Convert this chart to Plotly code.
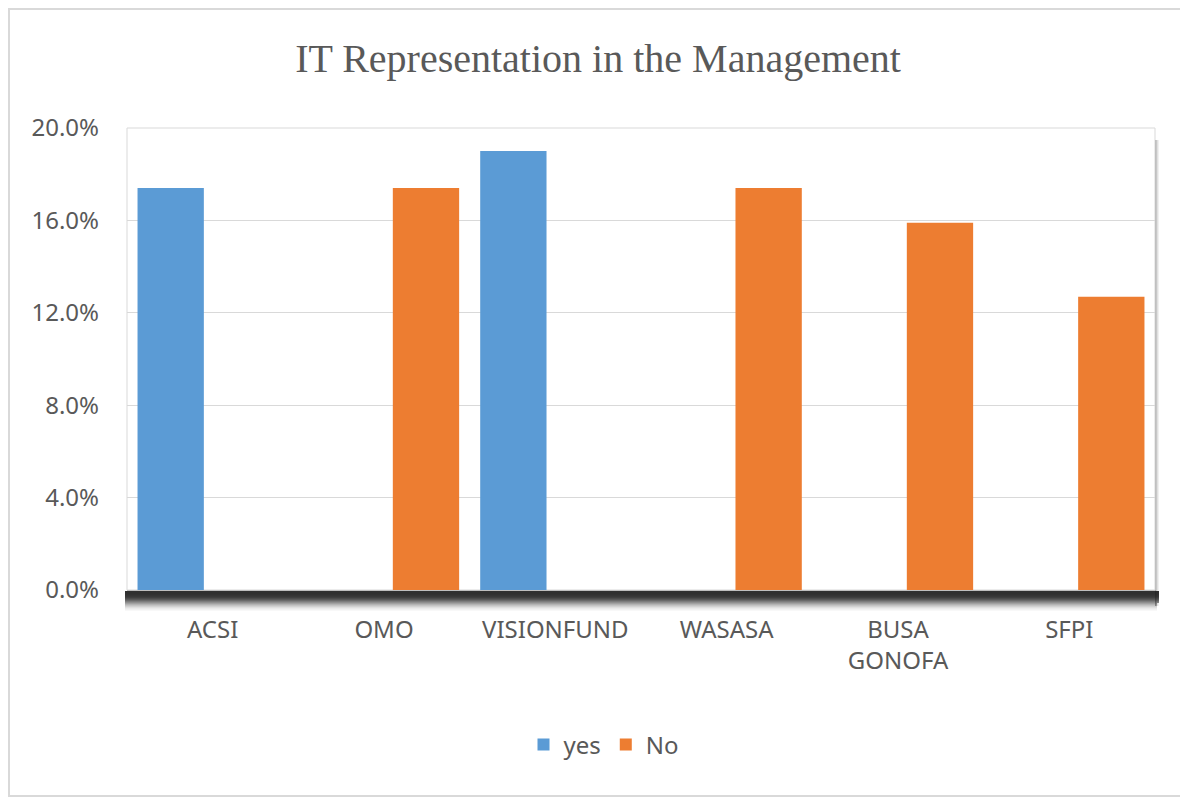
import plotly.graph_objects as go

# data
categories = ["ACSI", "OMO", "VISIONFUND", "WASASA", "BUSA<br>GONOFA", "SFPI"]
yes_vals = [17.4, None, 19.0, None, None, None]
no_vals = [None, 17.4, None, 17.4, 15.9, 12.7]
y_ticks = [0, 4, 8, 12, 16, 20]
y_ticktext = ["0.0%", "4.0%", "8.0%", "12.0%", "16.0%", "20.0%"]

TEXT = "#595959"
BLUE = "#5B9BD5"
ORANGE = "#ED7D31"

# page body has an 8px margin, so the figure is drawn 8px in from the corner
W, H = 1180, 792
L, R, T, B = 119, 33, 120, 210
pw, ph = W - L - R, H - T - B

fig = go.Figure()
fig.add_trace(go.Bar(name="yes", x=categories, y=yes_vals, marker_color=BLUE,
                     marker_line_width=0))
fig.add_trace(go.Bar(name="No", x=categories, y=no_vals, marker_color=ORANGE,
                     marker_line_width=0))

shapes = []
# soft shadow on right side of plot area
for i, op in enumerate([0.35, 0.22, 0.12, 0.06]):
    shapes.append(dict(type="rect", xref="paper", yref="paper", layer="below",
                       x0=1 + i / pw, x1=1 + (i + 1) / pw,
                       y0=-16 / ph, y1=1 - 12 / ph,
                       line_width=0, fillcolor=f"rgba(0,0,0,{op})"))
# dark blurred shadow under the baseline, one pixel row per step
shadow = [0.9, 0.9, 0.9, 0.89, 0.88, 0.86, 0.83, 0.78, 0.72, 0.65, 0.57,
          0.49, 0.41, 0.33, 0.26, 0.2, 0.14, 0.09, 0.06, 0.03]
for i, op in enumerate(shadow):
    shapes.append(dict(type="rect", xref="paper", yref="paper", layer="below",
                       x0=-2 / pw, x1=1 + (4 if i < 12 else 2) / pw,
                       y0=-(1 + i) / ph, y1=-(2 + i) / ph,
                       line_width=0, fillcolor=f"rgba(25,25,25,{op})"))
# plot area border
shapes.append(dict(type="rect", xref="paper", yref="paper", x0=0, x1=1, y0=0, y1=1,
                   line=dict(color="#d9d9d9", width=1), layer="below"))
# outer chart border
shapes.append(dict(type="rect", xref="paper", yref="paper",
                   x0=-(L - 1) / pw, x1=1 + (R - 6) / pw,
                   y0=-(B - 4) / ph, y1=1 + (T - 1) / ph,
                   line=dict(color="#d9d9d9", width=2)))

fig.update_layout(
    width=W, height=H,
    margin=dict(l=L, r=R, t=T, b=B),
    paper_bgcolor="white", plot_bgcolor="white",
    font=dict(family="Noto Sans, Arial", size=24, color=TEXT),
    title=dict(text="IT Representation in the Management", x=0.5, xanchor="center",
               y=1 - 50 / H, yanchor="middle",
               font=dict(family="Liberation Serif, Times New Roman", size=40, color=TEXT)),
    barmode="group", bargap=0.02, bargroupgap=0.21,
    xaxis=dict(showgrid=False, showline=True, linecolor="#bfbfbf", linewidth=1,
               ticks="", ticklabelstandoff=18, tickfont=dict(size=24, color=TEXT)),
    yaxis=dict(range=[0, 20], tickvals=y_ticks, ticktext=y_ticktext,
               showgrid=True, gridcolor="#d9d9d9", gridwidth=1, zeroline=False,
               showline=False, ticks="", ticklabelstandoff=27,
               tickfont=dict(size=24, color=TEXT)),
    legend=dict(orientation="h", x=(604 - 127) / 1028, xanchor="center",
                y=-155 / ph, yanchor="middle",
                font=dict(size=24, color=TEXT), itemwidth=30, traceorder="normal"),
    shapes=shapes,
)

fig.write_html("out.html")
